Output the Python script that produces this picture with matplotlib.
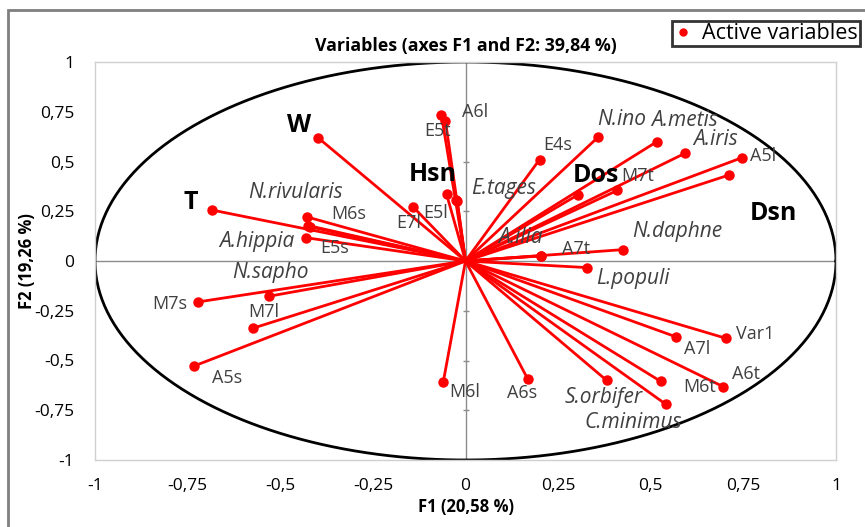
import numpy as np
import matplotlib
matplotlib.use('Agg')
import matplotlib.pyplot as plt
from matplotlib.patches import Rectangle
from matplotlib.lines import Line2D

plt.rcParams['font.family'] = ['Open Sans', 'DejaVu Sans']

# Variable coordinates on F1 / F2
names = ['W', 'T', 'N.rivularis', 'M6s', 'E5s', 'A.hippia', 'E7l', 'Hsn', 'E5l',
         'A6l', 'E5t', 'E4s', 'N.ino', 'A.metis', 'A.iris', 'A5l', 'Dsn', 'M7t',
         'Dos', 'E.tages', 'A.ilia', 'A7t', 'N.daphne', 'L.populi', 'Var1', 'A7l',
         'A6t', 'M6t', 'C.minimus', 'S.orbifer', 'A6s', 'M6l', 'M7s', 'N.sapho',
         'M7l', 'A5s']
f1 = [-0.397, -0.684, -0.427, -0.424, -0.420, -0.430, -0.141, -0.051, -0.022,
      -0.065, -0.054, 0.200, 0.357, 0.516, 0.592, 0.746, 0.711, 0.410,
      0.303, -0.025, 0.203, 0.205, 0.424, 0.327, 0.704, 0.568,
      0.695, 0.527, 0.540, 0.381, 0.168, -0.060, -0.723, -0.530,
      -0.574, -0.733]
f2 = [0.618, 0.256, 0.221, 0.178, 0.172, 0.117, 0.271, 0.335, 0.300,
      0.734, 0.703, 0.510, 0.621, 0.599, 0.541, 0.519, 0.432, 0.355,
      0.332, 0.305, 0.025, 0.027, 0.057, -0.033, -0.389, -0.381,
      -0.631, -0.605, -0.719, -0.600, -0.593, -0.608, -0.206, -0.177,
      -0.338, -0.528]

bold_names = ['W', 'T', 'Hsn', 'Dos', 'Dsn']
italic_names = ['N.rivularis', 'A.hippia', 'N.sapho', 'E.tages', 'A.ilia', 'N.ino',
                'A.metis', 'A.iris', 'N.daphne', 'L.populi', 'S.orbifer', 'C.minimus']

# label offsets from the point, in pixels (x right, y up)
label_offset = {
    'W': (-19, 13), 'T': (-21, 8), 'N.rivularis': (-12, 25), 'M6s': (40, 12),
    'E5s': (25, -21), 'A.hippia': (-49, -4), 'E7l': (-5, -16), 'Hsn': (-14, 20),
    'E5l': (-22, -12), 'A6l': (34, 3), 'E5t': (-8, -10), 'E4s': (18, 15),
    'N.ino': (24, 18), 'A.metis': (28, 21), 'A.iris': (31, 14), 'A5l': (21, 2),
    'Dsn': (45, -38), 'M7t': (20, 14), 'Dos': (18, 19), 'E.tages': (47, 12),
    'A.ilia': (-20, 19), 'A7t': (35, 7), 'N.daphne': (55, 18), 'L.populi': (46, -11),
    'Var1': (29, 4), 'A7l': (21, -12), 'A6t': (23, 13), 'M6t': (39, -6),
    'C.minimus': (-32, -18), 'S.orbifer': (-3, -17), 'A6s': (-6, -14),
    'M6l': (21, -10), 'M7s': (-28, -2), 'N.sapho': (1, 24), 'M7l': (11, 16),
    'A5s': (33, -12),
}

ticks = [-1, -0.75, -0.5, -0.25, 0, 0.25, 0.5, 0.75, 1]


def fmt(v):
    return ('%g' % v).replace('.', ',')


fig = plt.figure(figsize=(8.65, 5.27), dpi=100)
ax = fig.add_axes([95 / 865, 1 - 460 / 527, 741 / 865, 398 / 527])

# outer chart frame
fig.patches.append(Rectangle((8 / 865, -0.05), 1.2, 1.05 - 10 / 527, transform=fig.transFigure,
                             fill=False, edgecolor='#7f7f7f', linewidth=2))

# zero lines, small tick marks on the vertical one
ax.axhline(0, color='#8c8c8c', lw=1, zorder=1)
ax.axvline(0, color='#8c8c8c', lw=1, zorder=1)
inner = [t for t in ticks if t not in (-1, 0, 1)]
ax.plot([0] * len(inner), inner, ls='none', marker='_', ms=5, mew=1, color='#8c8c8c', zorder=1)

# correlation circle
theta = np.linspace(0, 2 * np.pi, 400)
ax.plot(np.cos(theta), np.sin(theta), color='black', lw=2, zorder=2)

# vectors
for x, y in zip(f1, f2):
    ax.plot([0, x], [0, y], color='#ff0000', lw=2, zorder=3, solid_capstyle='round')
ax.plot(f1, f2, 'o', color='#ff0000', ms=6.5, zorder=4)

for n, x, y in zip(names, f1, f2):
    dx, dy = label_offset[n]
    if n in bold_names:
        kw = dict(fontsize=18, fontweight='bold', color='black')
    elif n in italic_names:
        kw = dict(fontsize=15, fontstyle='italic', color='#404040')
    else:
        kw = dict(fontsize=13, color='#404040')
    ax.annotate(n, (x, y), xytext=(dx, dy), textcoords='offset pixels',
                ha='center', va='center', zorder=5, **kw)

ax.set_xlim(-1, 1)
ax.set_ylim(-1, 1)
ax.set_xticks(ticks)
ax.set_yticks(ticks)
ax.set_xticklabels([fmt(t) for t in ticks])
ax.set_yticklabels([fmt(t) for t in ticks])
ax.tick_params(length=0, labelsize=12.5, colors='black')
ax.tick_params(axis='x', pad=13)
ax.tick_params(axis='y', pad=15)
for s in ax.spines.values():
    s.set_color('#d0d0d0')
    s.set_linewidth(1)

ax.set_title('Variables (axes F1 and F2: 39,84 %)', fontsize=12.8, fontweight='bold', pad=8)
ax.set_xlabel('F1 (20,58 %)', fontsize=12, fontweight='bold', labelpad=3)
ax.set_ylabel('F2 (19,26 %)', fontsize=12, fontweight='bold')
ax.yaxis.set_label_coords((36 - 95) / 741, 0.5)

handle = Line2D([], [], ls='none', marker='o', color='#ff0000', ms=5)
leg = fig.legend([handle], ['Active variables'], loc='upper right',
                 bbox_to_anchor=(860 / 865, 1 - 21 / 527), fontsize=15.5,
                 frameon=True, fancybox=False, handlelength=0.8, handletextpad=0.5,
                 borderpad=0.1, borderaxespad=0)
leg.get_frame().set_edgecolor('black')
leg.get_frame().set_linewidth(2)

fig.savefig('out.png', dpi=100)
